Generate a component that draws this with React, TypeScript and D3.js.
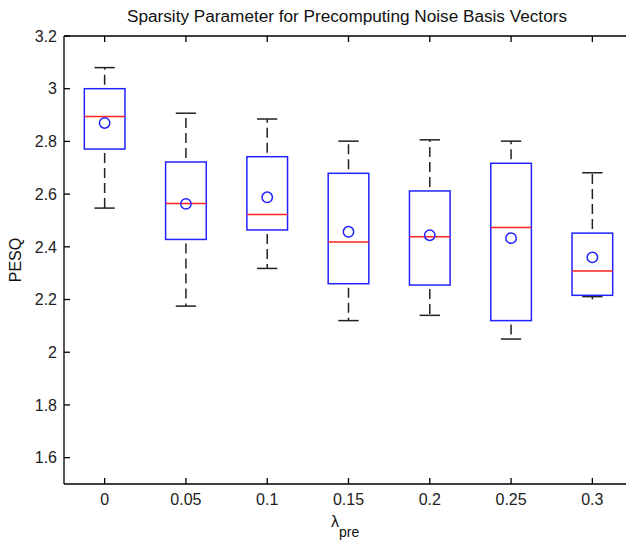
import React from 'react';
import * as d3 from 'd3';

const categories = ['0', '0.05', '0.1', '0.15', '0.2', '0.25', '0.3'];
const whiskerLow = [2.547, 2.175, 2.318, 2.12, 2.14, 2.05, 2.211];
const q1 = [2.771, 2.428, 2.464, 2.26, 2.255, 2.12, 2.216];
const medians = [2.895, 2.564, 2.523, 2.418, 2.438, 2.473, 2.308];
const q3 = [3.0, 2.722, 2.742, 2.679, 2.612, 2.717, 2.452];
const whiskerHigh = [3.08, 2.907, 2.885, 2.801, 2.806, 2.801, 2.681];
const means = [2.87, 2.563, 2.588, 2.457, 2.444, 2.433, 2.36];
const yTicks = [1.6, 1.8, 2.0, 2.2, 2.4, 2.6, 2.8, 3.0, 3.2];

const W = 626;
const H = 541;
const left = 64;
const right = 633;
const top = 36;
const bottom = 484;
const font = 'Liberation Sans, Arial, Helvetica, sans-serif';

export default function App() {
  const x = d3.scaleLinear().domain([0.5, categories.length + 0.5]).range([left, right]);
  const y = d3.scaleLinear().domain([1.5, 3.2]).range([bottom, top]);
  const step = x(2) - x(1);
  const boxW = step * 0.5;
  const capW = step * 0.25;
  const fmt = (v: number) => d3.format('~g')(+v.toFixed(2));

  return (
    <svg width={W} height={H} style={{ position: 'absolute', left: 0, top: 0, background: '#fff' }}>
      <rect x={0} y={0} width={W} height={H} fill="#fff" />
      {/* axes box */}
      <line x1={left} y1={top} x2={left} y2={bottom} stroke="#000" strokeWidth={1.3} />
      <line x1={left} y1={bottom} x2={right} y2={bottom} stroke="#000" strokeWidth={1.3} />
      <line x1={left} y1={top} x2={right} y2={top} stroke="#000" strokeWidth={1.3} />
      <line x1={right} y1={top} x2={right} y2={bottom} stroke="#000" strokeWidth={1.3} />
      {/* y ticks */}
      {yTicks.map((t) => (
        <g key={'y' + t}>
          <line x1={left} x2={left + 6} y1={y(t)} y2={y(t)} stroke="#000" strokeWidth={1.3} />
          <line x1={right} x2={right - 6} y1={y(t)} y2={y(t)} stroke="#000" strokeWidth={1.3} />
          <text x={left - 7} y={y(t)} dy="0.36em" textAnchor="end" fontFamily={font} fontSize={16} fill="#222">
            {fmt(t)}
          </text>
        </g>
      ))}
      {/* x ticks */}
      {categories.map((c, i) => (
        <g key={'x' + c}>
          <line x1={x(i + 1)} x2={x(i + 1)} y1={bottom} y2={bottom - 6} stroke="#000" strokeWidth={1.3} />
          <line x1={x(i + 1)} x2={x(i + 1)} y1={top} y2={top + 6} stroke="#000" strokeWidth={1.3} />
          <text x={x(i + 1)} y={bottom + 21} textAnchor="middle" fontFamily={font} fontSize={16} fill="#222">
            {c}
          </text>
        </g>
      ))}
      {/* boxes */}
      {categories.map((c, i) => {
        const cx = x(i + 1);
        return (
          <g key={'b' + c}>
            <line x1={cx} x2={cx} y1={y(q3[i]) - 4} y2={y(whiskerHigh[i])} stroke="#222" strokeWidth={1.5} strokeDasharray="10,5" />
            <line x1={cx} x2={cx} y1={y(q1[i]) + 4} y2={y(whiskerLow[i])} stroke="#222" strokeWidth={1.5} strokeDasharray="10,5" />
            <line x1={cx - capW / 2} x2={cx + capW / 2} y1={y(whiskerHigh[i])} y2={y(whiskerHigh[i])} stroke="#222" strokeWidth={1.5} />
            <line x1={cx - capW / 2} x2={cx + capW / 2} y1={y(whiskerLow[i])} y2={y(whiskerLow[i])} stroke="#222" strokeWidth={1.5} />
            <rect x={cx - boxW / 2} y={y(q3[i])} width={boxW} height={y(q1[i]) - y(q3[i])} fill="#fff" stroke="#2222ff" strokeWidth={1.5} />
            <line x1={cx - boxW / 2} x2={cx + boxW / 2} y1={y(medians[i])} y2={y(medians[i])} stroke="#ff2020" strokeWidth={1.5} />
            <circle cx={cx} cy={y(means[i])} r={5.2} fill="none" stroke="#2222ff" strokeWidth={1.5} />
          </g>
        );
      })}
      {/* title */}
      <text x={347} y={22} textAnchor="middle" fontFamily={font} fontSize={16} fill="#111" textLength={440} lengthAdjust="spacingAndGlyphs">
        Sparsity Parameter for Precomputing Noise Basis Vectors
      </text>
      {/* y label */}
      <text transform={`translate(21,${(top + bottom) / 2}) rotate(-90)`} textAnchor="middle" fontFamily={font} fontSize={16} fill="#111">
        PESQ
      </text>
      {/* x label */}
      <text x={331} y={527} fontFamily={font} fontSize={16} fill="#111">
        λ<tspan fontSize={14} dy={10}>pre</tspan>
      </text>
    </svg>
  );
}
